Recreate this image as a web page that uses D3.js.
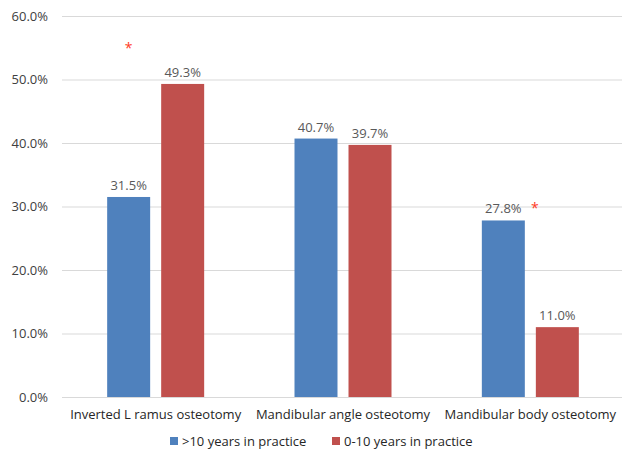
<!DOCTYPE html>
<html><head><meta charset="utf-8">
<script src="https://cdn.jsdelivr.net/npm/d3@7"></script>
<style>body{margin:0;background:#fff}svg{display:block}text{font-family:"Open Sans","Noto Sans",sans-serif}</style>
</head><body><svg id="c" width="622" height="453"></svg>
<script>
const categories = ["Inverted L ramus osteotomy","Mandibular angle osteotomy","Mandibular body osteotomy"];
const seriesNames = [">10 years in practice","0-10 years in practice"];
const senior = [31.5, 40.7, 27.8];
const junior = [49.3, 39.7, 11.0];
const yTicks = [0,10,20,30,40,50,60];
const colors = ["#4f81bd","#c0504d"];

(function(){
const svg = d3.select("#c");
const mLeft = 62, mRight = 624, mTop = 16, mBottom = 397;
const x = d3.scaleBand().domain(categories).range([mLeft,mRight]);
const xs = d3.scaleBand().domain([0,1]).range([0,97]).paddingInner(0.204);
const y = d3.scaleLinear().domain([0,60]).range([mBottom,mTop]);

const yAxis = svg.append("g").attr("transform",`translate(${mLeft},0)`)
  .call(d3.axisLeft(y).tickValues(yTicks).tickSize(-(mRight-2-mLeft)).tickFormat(d=>d.toFixed(1)+"%"));
yAxis.select(".domain").remove();
yAxis.selectAll(".tick line").attr("stroke","#d9d9d9").attr("stroke-width",1);
yAxis.selectAll(".tick text").attr("x",-14).attr("fill","#404040").style("font-size","13px");

const data = [senior, junior];
categories.forEach((c,i)=>{
  const g0 = x(c) + (x.bandwidth()-97)/2;
  data.forEach((arr,s)=>{
    const bx = g0 + xs(s);
    svg.append("rect").attr("x",bx).attr("width",xs.bandwidth())
      .attr("y",y(arr[i])).attr("height",y(0)-y(arr[i])).attr("fill",colors[s]);
    svg.append("text").attr("x",bx+xs.bandwidth()/2).attr("y",y(arr[i])-7)
      .attr("text-anchor","middle").attr("fill","#595959").style("font-size","13px")
      .text(arr[i].toFixed(1)+"%");
  });
  svg.append("text").attr("x",x(c)+x.bandwidth()/2).attr("y",mBottom+22)
    .attr("text-anchor","middle").attr("fill","#262626").style("font-size","13px").text(c);
});
// significance markers
svg.append("text").attr("x", x(categories[0])+(x.bandwidth()-97)/2+xs(0)+xs.bandwidth()/2)
  .attr("y", y(54.1)).attr("text-anchor","middle").attr("fill","#ff3b1f").style("font-size","14px").text("*");
svg.append("text").attr("x", x(categories[2])+(x.bandwidth()-97)/2+xs(0)+xs.bandwidth()+10)
  .attr("y", y(29.0)).attr("text-anchor","middle").attr("fill","#ff3b1f").style("font-size","14px").text("*");

// legend
const leg = [{x:170},{x:332}];
seriesNames.forEach((n,s)=>{
  svg.append("rect").attr("x",leg[s].x).attr("y",437).attr("width",8).attr("height",8).attr("fill",colors[s]);
  svg.append("text").attr("x",leg[s].x+12).attr("y",446).attr("fill","#262626").style("font-size","13px").text(n);
});
})();
</script></body></html>
